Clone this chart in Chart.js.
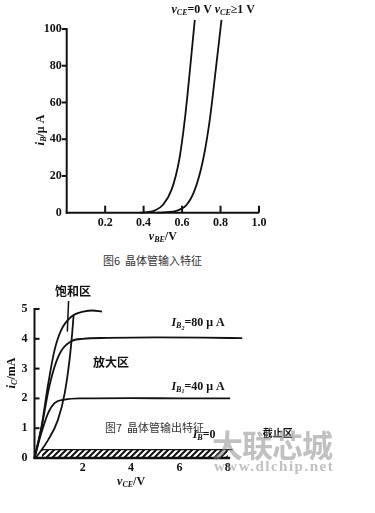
<!DOCTYPE html>
<html>
<head>
<meta charset="utf-8">
<script src="https://cdn.jsdelivr.net/npm/chart.js@4"></script>
<style>
  body { margin: 0; background: #fff; }
  #wrap { position: relative; width: 375px; height: 513px; overflow: hidden; background: #fff; }
  canvas { position: absolute; left: 0; }
  .cap { position: absolute; font-family: "Noto Sans CJK SC"; font-size: 11px; color: #333; white-space: nowrap; }
  .wm { position: absolute; color: rgba(140,140,140,0.55); white-space: nowrap; }
</style>
</head>
<body>
<div id="wrap">
  <canvas id="c1" width="375" height="250" style="top:0"></canvas>
  <canvas id="c2" width="375" height="243" style="top:270px"></canvas>
  <div class="cap" style="left:103px;top:252px">图6&nbsp; 晶体管输入特征</div>
  <div class="cap" style="left:105px;top:419px">图7&nbsp; 晶体管输出特征</div>
  <div class="wm" style="left:212px;top:421px;font:bold 31px 'Noto Sans CJK SC';letter-spacing:-1px">大联芯城</div>
  <div class="wm" style="left:214px;top:458px;font:bold 15px 'Liberation Serif';letter-spacing:1.5px">www.dlchip.net</div>
</div>
<script>
// 图6 input characteristic: i_B (uA) vs v_BE (V)
const vbeCe0 = [0.38, 0.42, 0.46, 0.50, 0.545, 0.585, 0.614, 0.641, 0.666];
const ibCe0 = [0, 0.3, 1.3, 4.2, 12.4, 28.7, 50.5, 77.8, 105];
const vbeCe1 = [0.47, 0.52, 0.57, 0.623, 0.666, 0.709, 0.744, 0.775, 0.805];
const ibCe1 = [0, 0.3, 1.0, 4.2, 12.4, 28.7, 50.5, 77.8, 105];
const inXTicks = [0.2, 0.4, 0.6, 0.8, 1.0];
const inYTicks = [0, 20, 40, 60, 80, 100];

// 图7 output characteristic: i_C (mA) vs v_CE (V)
const vceTop = [0, 0.3, 0.56, 0.83, 1.11, 1.52, 2.07, 2.4, 2.8];
const icTop = [0, 1.1, 2.45, 3.62, 4.3, 4.74, 4.92, 4.95, 4.91];
const vce80 = [0, 0.3, 0.56, 0.83, 1.11, 1.52, 2.0, 3, 5, 7, 8.6];
const ic80 = [0, 1.05, 2.2, 3.06, 3.6, 3.92, 4.0, 4.03, 4.05, 4.04, 4.02];
const vce40 = [0, 0.28, 0.56, 0.83, 1.25, 2, 4, 6, 8.1];
const ic40 = [0, 0.83, 1.5, 1.84, 1.96, 2.0, 2.01, 2.0, 2.0];
const vceSat = [0.05, 0.14, 0.56, 0.97, 1.25, 1.45, 1.56, 1.62];
const icSat = [0, 0.1, 0.6, 1.28, 2.17, 3.29, 4.18, 4.8];
const vceCut = [0.3, 8.2];
const icCut = [0.28, 0.28];
const outXTicks = [2, 4, 6, 8];
const outYTicks = [0, 1, 2, 3, 4, 5];

const ink = "#111";
const tickFont = { family: "Liberation Serif", size: 12, weight: "bold" };

const pts = (xs, ys) => xs.map((x, i) => ({ x: x, y: ys[i] }));

function curve(xs, ys, extra) {
    return Object.assign({
        data: pts(xs, ys),
        showLine: true,
        borderColor: ink,
        borderWidth: 1.8,
        pointRadius: 0,
        cubicInterpolationMode: "monotone",
        clip: false,
        fill: false,
    }, extra || {});
}

function segFont(s) {
    return (s[3] ? "italic " : "") + "bold " + s[1] + "px 'Liberation Serif'";
}

// segs: [text, size, dy, italic]
function rich(ctx, x, y, segs, align) {
    let w = 0;
    segs.forEach((s) => { ctx.font = segFont(s); w += ctx.measureText(s[0]).width; });
    let cx = align === "center" ? x - w / 2 : x;
    ctx.textAlign = "left";
    ctx.textBaseline = "middle";
    segs.forEach((s) => {
        ctx.font = segFont(s);
        ctx.fillText(s[0], cx, y + s[2]);
        cx += ctx.measureText(s[0]).width;
    });
}

// plugin made per chart so the settings stay plain objects
function makeAxes(opts) {
    return {
        id: "axes_" + opts.name,
        afterDatasetsDraw: (chart) => {
            const { ctx } = chart;
            const xs = chart.scales.x, ys = chart.scales.y;
            const x0 = xs.getPixelForValue(0), y0 = ys.getPixelForValue(0);
            ctx.save();
            ctx.strokeStyle = ink;
            ctx.lineCap = "butt";
            ctx.lineWidth = opts.yWidth;
            ctx.beginPath();
            ctx.moveTo(x0, y0 + 1);
            ctx.lineTo(x0, ys.getPixelForValue(ys.max) - 1);
            ctx.stroke();
            ctx.lineWidth = opts.xWidth;
            ctx.beginPath();
            ctx.moveTo(x0 - 1, y0);
            ctx.lineTo(xs.getPixelForValue(opts.xEnd), y0);
            ctx.stroke();
            ctx.lineWidth = 2;
            opts.yTicks.forEach((v) => {
                if (v === 0) return;
                const p = ys.getPixelForValue(v);
                ctx.beginPath();
                ctx.moveTo(x0, p);
                ctx.lineTo(x0 + opts.yTickLen, p);
                ctx.stroke();
            });
            opts.xTicks.forEach((v) => {
                const p = xs.getPixelForValue(v);
                ctx.beginPath();
                ctx.moveTo(p, y0);
                ctx.lineTo(p, y0 + opts.xTickLen);
                ctx.stroke();
            });
            ctx.restore();
        },
        afterDraw: (chart) => {
            const { ctx } = chart;
            const xs = chart.scales.x, ys = chart.scales.y;
            ctx.save();
            ctx.fillStyle = ink;
            opts.notes.forEach((n) => {
                const px = n.px !== undefined ? n.px : xs.getPixelForValue(n.x);
                const py = n.py !== undefined ? n.py : ys.getPixelForValue(n.y);
                if (n.rot) {
                    ctx.save();
                    ctx.translate(px, py);
                    ctx.rotate(-Math.PI / 2);
                    rich(ctx, 0, 0, n.segs, "center");
                    ctx.restore();
                } else if (n.cjk) {
                    ctx.font = "bold " + n.size + "px 'Noto Sans CJK SC'";
                    ctx.textAlign = "left";
                    ctx.textBaseline = "middle";
                    ctx.fillText(n.cjk, px, py);
                } else {
                    rich(ctx, px, py, n.segs, n.align || "left");
                }
            });
            (opts.lines || []).forEach((l) => {
                ctx.strokeStyle = ink;
                ctx.lineWidth = 1.5;
                ctx.beginPath();
                ctx.moveTo(xs.getPixelForValue(l[0]), ys.getPixelForValue(l[1]));
                ctx.lineTo(xs.getPixelForValue(l[2]), ys.getPixelForValue(l[3]));
                ctx.stroke();
            });
            ctx.restore();
        },
    };
}

function scales(xMax, xStep, yMax, yStep, xLabel, yWidth, xHeight, yPad, xPad) {
    return {
        x: {
            type: "linear", min: 0, max: xMax,
            grid: { display: false, drawTicks: false },
            border: { display: false },
            ticks: {
                stepSize: xStep, padding: xPad, color: ink, font: tickFont,
                maxRotation: 0, autoSkip: false,
                callback: xLabel,
            },
            afterFit: (s) => { s.height = xHeight; },
        },
        y: {
            type: "linear", min: 0, max: yMax,
            grid: { display: false, drawTicks: false },
            border: { display: false },
            ticks: { stepSize: yStep, padding: yPad, color: ink, font: tickFont },
            afterFit: (s) => { s.width = yWidth; },
        },
    };
}

const common = {
    responsive: false,
    animation: false,
    events: [],
    plugins: { legend: { display: false }, tooltip: { enabled: false } },
};

// ---- 图6 ----
new Chart(document.getElementById("c1"), {
    type: "scatter",
    data: {
        datasets: [curve(vbeCe0, ibCe0), curve(vbeCe1, ibCe1)],
    },
    options: Object.assign({}, common, {
        layout: { padding: { left: 0, top: 29, right: 116, bottom: 0 } },
        scales: scales(1, 0.2, 100, 20,
            (v) => (v === 0 ? "" : v.toFixed(1)), 66.7, 37.3, 5, 3),
    }),
    plugins: [makeAxes({
        name: "in",
        yWidth: 2, xWidth: 2, yTickLen: -5, xTickLen: -7,
        xEnd: 1.0, xTicks: inXTicks, yTicks: inYTicks,
        notes: [
            { x: 0.545, y: 110.5, segs: [["v", 12, 0, true], ["CE", 8, 3, true], ["=0 V", 12, 0, false]] },
            { x: 0.77, y: 110.5, segs: [["v", 12, 0, true], ["CE", 8, 3, true], ["≥1 V", 12, 0, false]] },
            { x: 0.5, py: 237, align: "center", segs: [["v", 12, 0, true], ["BE", 8, 3, true], ["/V", 12, 0, false]] },
            { px: 41, y: 45, rot: true, segs: [["i", 13, 0, true], ["B", 8, 3, true], ["/μ A", 12, 0, false]] },
        ],
    })],
});

// ---- 图7 ----
const c2 = document.getElementById("c2");
const pc = document.createElement("canvas");
pc.width = 6; pc.height = 6;
const pctx = pc.getContext("2d");
pctx.strokeStyle = ink;
pctx.lineWidth = 2;
pctx.beginPath();
pctx.moveTo(-1, 7); pctx.lineTo(7, -1);
pctx.moveTo(-1, 1); pctx.lineTo(1, -1);
pctx.moveTo(5, 7); pctx.lineTo(7, 5);
pctx.stroke();
const hatch = c2.getContext("2d").createPattern(pc, "repeat");

new Chart(c2, {
    type: "scatter",
    data: {
        datasets: [
            curve(vceCut, icCut, { fill: "origin", backgroundColor: hatch, borderWidth: 1.4, cubicInterpolationMode: "default", tension: 0 }),
            curve(vceTop, icTop),
            curve(vce80, ic80),
            curve(vce40, ic40),
            curve(vceSat, icSat),
        ],
    },
    options: Object.assign({}, common, {
        layout: { padding: { left: 0, top: 39, right: 147.3, bottom: 0 } },
        scales: scales(8, 2, 5, 1, (v) => (v === 0 ? "" : String(v)), 34.5, 55, 7, 3),
    }),
    plugins: [makeAxes({
        name: "out",
        yWidth: 2, xWidth: 2.5, yTickLen: 5, xTickLen: 0,
        xEnd: 8.1, xTicks: [], yTicks: outYTicks,
        notes: [
            { x: 5.67, y: 4.52, segs: [["I", 12, 0, true], ["B", 8, 3, true], ["2", 6, 5, true], ["=80 μ A", 12, 0, false]] },
            { x: 5.67, y: 2.39, segs: [["I", 12, 0, true], ["B", 8, 3, true], ["1", 6, 5, true], ["=40 μ A", 12, 0, false]] },
            { x: 6.55, y: 0.77, segs: [["I", 12, 0, true], ["B", 8, 3, true], ["=0", 12, 0, false]] },
            { x: 2.42, y: 3.2, cjk: "放大区", size: 12 },
            { x: 0.85, py: 21, cjk: "饱和区", size: 12 },
            { x: 9.45, y: 0.84, cjk: "截止区", size: 10 },
            { x: 4, py: 212, align: "center", segs: [["v", 12, 0, true], ["CE", 8, 3, true], ["/V", 12, 0, false]] },
            { px: 12, y: 2.85, rot: true, segs: [["i", 13, 0, true], ["C", 8, 3, true], ["/mA", 12, 0, false]] },
        ],
        lines: [[1.41, 5.27, 1.36, 4.24]],
    })],
});
</script>
</body>
</html>
